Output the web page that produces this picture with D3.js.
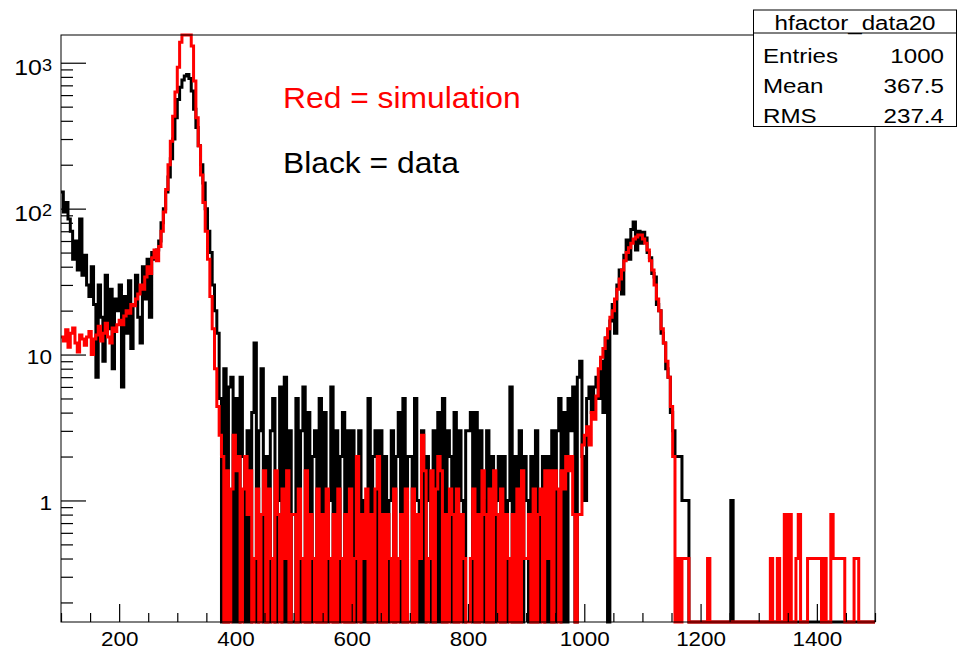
<!DOCTYPE html>
<html>
<head>
<meta charset="utf-8">
<script src="https://cdn.jsdelivr.net/npm/d3@7"></script>
<style>
  body { margin: 0; background: #fff; }
  svg { display: block; }
  text { font-family: "Liberation Sans", Arial, Helvetica, sans-serif; }
</style>
</head>
<body>
<svg></svg>
<script>
// DATA (bins of 4 units from 100 to 1500, one line = 100 units)
const dataCounts = [
  130, 95, 110, 85, 70, 45, 60, 38, 85, 35, 48, 30, 25, 40, 22, 7, 30, 18, 9, 35, 15, 28, 8, 24, 20,
  30, 6, 25, 14, 32, 11, 22, 35, 18, 12, 40, 24, 45, 18, 50, 45, 52, 60, 80, 100, 130, 165, 220, 300, 420,
  560, 680, 760, 810, 830, 780, 640, 480, 360, 270, 200, 150, 100, 70, 50, 30, 20, 14, 5, 0, 8, 0, 6, 7, 0,
  5, 0, 7, 2, 0, 3, 0, 4, 12, 0, 3, 8, 0, 2, 0, 3, 5, 0, 1, 6, 0, 7, 0, 3, 0,
  0, 5, 0, 3, 6, 0, 4, 0, 2, 3, 0, 5, 0, 4, 0, 1, 6, 0, 3, 0, 2, 4, 0, 3, 0,
  3, 0, 2, 3, 0, 1, 0, 5, 0, 2, 3, 0, 3, 0, 2, 0, 1, 3, 0, 2, 4, 0, 5, 0, 2,
  2, 0, 5, 1, 0, 3, 0, 2, 1, 0, 3, 0, 4, 0, 5, 0, 3, 2, 0, 4, 0, 3, 1, 0, 3,
  3, 4, 0, 4, 0, 3, 1, 0, 3, 0, 2, 0, 1, 2, 0, 2, 0, 1, 6, 0, 2, 0, 3, 0, 2,
  1, 0, 2, 0, 3, 0, 1, 2, 0, 2, 0, 3, 0, 3, 5, 0, 4, 0, 5, 3, 6, 0, 7, 9, 2,
  1, 5, 6, 4, 6, 7, 5, 9, 4, 13, 0, 17, 22, 14, 30, 38, 26, 48, 61, 45, 72, 81, 52, 70, 58,
  69, 63, 50, 46, 36, 34, 22, 20, 14, 12, 8, 7, 4, 3, 2, 2, 2, 1, 1, 1, 0, 0, 0, 0, 0,
  0, 0, 0, 0, 0, 0, 0, 0, 0, 0, 0, 0, 0, 1, 0, 0, 0, 0, 0, 0, 0, 0, 0, 0, 0,
  0, 0, 0, 0, 0, 0, 0, 0, 0, 0, 0, 0, 0, 0, 0, 0, 0, 0, 0, 0, 0, 0, 0, 0, 0,
  0, 0, 0, 0, 0, 0, 0, 0, 0, 0, 0, 0, 0, 0, 0, 0, 0, 0, 0, 0, 0, 0, 0, 0, 0
];

const simCounts = [
  13.2, 12.4, 14.8, 11.2, 14, 15.2, 12, 10.4, 13.6, 12.8, 11.6, 13.2, 14.4, 10, 12.8, 13.6, 15.6, 12.4, 14, 16.4, 13.2, 12, 15.2, 14.4, 16,
  17.2, 16, 18.4, 20, 19.2, 22, 21.6, 24, 26, 30, 28, 34, 40, 36, 46, 52, 44, 55, 70, 95, 135, 200, 290, 430, 630,
  930, 1380, 1800, 1900, 1900, 1800, 1300, 750, 420, 270, 170, 110, 70, 45, 25, 15, 8, 4.4, 2.8, 2, 0, 1.6, 0, 1.2, 2.8,
  1.6, 2, 0, 1.2, 2, 0.8, 1.6, 0, 0.4, 1.2, 0, 0.8, 1.6, 0, 1.2, 0.4, 0, 1.6, 0.8, 0, 1.2, 0.4, 1.6, 0, 0.8,
  0.8, 0, 1.2, 0.4, 0, 1.6, 0, 0.8, 0.4, 0, 1.2, 0, 0.8, 0, 1.2, 0.4, 0, 0.8, 0, 1.2, 0.4, 0, 0.8, 0, 1.2,
  0, 0.4, 2, 0, 0.8, 0.4, 1.2, 0, 0.8, 0, 1.2, 2, 0, 0.8, 0, 0.8, 0.4, 0, 1.2, 0, 0.4, 0.8, 0, 1.2, 0,
  0, 1.2, 0, 0.8, 0.4, 2.8, 1.6, 0, 0.4, 1.6, 0, 1.2, 2, 1.6, 0, 0.8, 0, 1.2, 0.8, 0, 1.2, 0, 0.8, 0.4, 0,
  0, 0.4, 1.2, 0, 0.8, 0, 1.6, 0.8, 0, 1.2, 0, 1.6, 0.8, 0, 1.2, 0, 0.8, 0.4, 0, 0.8, 0, 1.2, 0, 1.6, 0.4,
  0.4, 0.8, 0, 1.2, 0, 0.8, 1.2, 0, 1.6, 0.4, 1.6, 0, 1.6, 1.2, 0, 1.6, 1.2, 2, 1.6, 2, 0.8, 0, 0.8, 0.8, 2.4,
  2.8, 3.2, 2.4, 4, 3.6, 5.2, 8, 9.6, 11, 13, 15, 18, 20, 24, 28, 33, 38, 44, 50, 54, 58, 62, 64, 66, 66,
  62, 58, 52, 44, 38, 30, 24, 20, 15, 12, 9, 7, 4.4, 2, 0, 0.4, 0, 0.4, 0.4, 0.4, 0, 0, 0, 0, 0,
  0, 0, 0, 0.4, 0, 0, 0, 0, 0, 0, 0, 0, 0, 0, 0, 0, 0, 0, 0, 0, 0, 0, 0, 0, 0,
  0, 0, 0, 0, 0, 0.4, 0, 0, 0.4, 0, 0, 0.8, 0, 0.8, 0, 0, 0.4, 0.8, 0, 0, 0, 0.4, 0.4, 0.4, 0.4,
  0.4, 0.4, 0, 0.4, 0, 0, 0.8, 0.4, 0.4, 0.4, 0.4, 0.4, 0, 0, 0, 0, 0.4, 0.4, 0, 0, 0, 0, 0, 0, 0
];

const xMajorTicks = [200, 400, 600, 800, 1000, 1200, 1400];
const xMinorTicks = d3.range(100, 1501, 50).filter(v => xMajorTicks.indexOf(v) === -1);
const yMajorTicks = [1, 10, 100, 1000];
const yTickLabels = [['1', ''], ['10', ''], ['10', '2'], ['10', '3']];
const statsTitle = 'hfactor_data20';
const statsNames = ['Entries', 'Mean', 'RMS'];
const statsValues = ['1000', '367.5', '237.4'];
const notes = ['Red = simulation', 'Black = data'];

const width = 965;
const height = 653;
const frame = { left: 61, right: 875, top: 35, bottom: 622 };
const xMin = 100, xMax = 1500, binWidth = 4;
const yMin = 0.1469, yMax = 1549;
const edges = d3.range(dataCounts.length + 1).map(i => xMin + i * binWidth);

const svg = d3.select('svg')
  .attr('width', width)
  .attr('height', height);

// SCALES
const x = d3.scaleLinear().domain([xMin, xMax]).range([frame.left, frame.right]);
const y = d3.scaleLog().domain([yMin, yMax]).range([frame.bottom, frame.top]).clamp(true);

const yMinorTicks = [];
[0.1, 1, 10, 100].forEach(dec => d3.range(2, 10).forEach(k => {
  const v = +(dec * k).toPrecision(3);
  if (v > yMin && v < yMax) yMinorTicks.push(v);
}));

// HISTOGRAMS
const stepPoints = counts => counts.flatMap((v, i) => [[edges[i], v], [edges[i + 1], v]]);
const histLine = d3.line()
  .x(d => x(d[0]))
  .y(d => d[1] > 0 ? y(d[1]) : frame.bottom);

svg.append('path')
  .attr('d', histLine(stepPoints(dataCounts)))
  .attr('fill', 'none')
  .attr('stroke', '#000')
  .attr('stroke-width', 3);

svg.append('path')
  .attr('d', histLine(stepPoints(simCounts)))
  .attr('fill', 'none')
  .attr('stroke', '#ff0000')
  .attr('stroke-width', 3);

// FRAME
svg.append('rect')
  .attr('x', frame.left)
  .attr('y', frame.top)
  .attr('width', frame.right - frame.left)
  .attr('height', frame.bottom - frame.top)
  .attr('fill', 'none')
  .attr('stroke', '#000')
  .attr('stroke-width', 1);

// AXES (ticks point into the frame)
const xMajorAxis = svg.append('g')
  .attr('transform', `translate(0,${frame.bottom})`)
  .call(d3.axisBottom(x).tickValues(xMajorTicks).tickSize(-18).tickPadding(10).tickFormat(d3.format('d')));
xMajorAxis.select('.domain').remove();
xMajorAxis.attr('font-size', 19.5).attr('font-family', '"Liberation Sans", Arial, sans-serif');
xMajorAxis.selectAll('text').attr('fill', '#000').attr('transform', 'scale(1.15,1)');

const xMinorAxis = svg.append('g')
  .attr('transform', `translate(0,${frame.bottom})`)
  .call(d3.axisBottom(x).tickValues(xMinorTicks).tickSize(-9).tickFormat(''));
xMinorAxis.select('.domain').remove();

const yMajorAxis = svg.append('g')
  .attr('transform', `translate(${frame.left},0)`)
  .call(d3.axisLeft(y).tickValues(yMajorTicks).tickSize(-25).tickFormat(''));
yMajorAxis.select('.domain').remove();

const yMinorAxis = svg.append('g')
  .attr('transform', `translate(${frame.left},0)`)
  .call(d3.axisLeft(y).tickValues(yMinorTicks).tickSize(-12).tickFormat(''));
yMinorAxis.select('.domain').remove();

svg.selectAll('.tick line').attr('stroke', '#000').attr('stroke-width', 1.2);

// Y LABELS (10^n drawn with a superscript)
yMajorTicks.forEach((v, i) => {
  const [base, exp] = yTickLabels[i];
  const t = svg.append('text')
    .attr('transform', `translate(52,${y(v) + (exp ? 12.3 : 9.5)}) scale(1.13,1)`)
    .attr('text-anchor', 'end')
    .attr('font-size', exp ? 22 : 20)
    .attr('fill', '#000');
  t.append('tspan').text(base);
  if (exp) t.append('tspan').attr('font-size', 16).attr('dy', -4.5).text(exp);
});

// NOTES
svg.append('text')
  .attr('transform', 'translate(283,108.3) scale(1.06,1)')
  .attr('font-size', 30)
  .attr('fill', '#ff0000')
  .text(notes[0]);
svg.append('text')
  .attr('transform', 'translate(283,172.5) scale(1.06,1)')
  .attr('font-size', 30)
  .attr('fill', '#000')
  .text(notes[1]);

// STATS BOX
const box = { x: 753.5, y: 10, w: 203, h: 116.5 };
svg.append('rect')
  .attr('x', box.x).attr('y', box.y)
  .attr('width', box.w).attr('height', box.h)
  .attr('fill', '#fff')
  .attr('stroke', '#000')
  .attr('stroke-width', 1);
svg.append('line')
  .attr('x1', box.x).attr('x2', box.x + box.w)
  .attr('y1', 33).attr('y2', 33)
  .attr('stroke', '#000')
  .attr('stroke-width', 1);
svg.append('text')
  .attr('transform', `translate(${box.x + box.w / 2},30) scale(1.15,1)`)
  .attr('text-anchor', 'middle')
  .attr('font-size', 21)
  .text(statsTitle);
statsNames.forEach((name, i) => {
  const by = 63.3 + i * 30;
  svg.append('text')
    .attr('transform', `translate(763,${by}) scale(1.15,1)`)
    .attr('font-size', 21)
    .text(name);
  svg.append('text')
    .attr('transform', `translate(944,${by}) scale(1.15,1)`)
    .attr('text-anchor', 'end')
    .attr('font-size', 21)
    .text(statsValues[i]);
});
</script>
</body>
</html>
